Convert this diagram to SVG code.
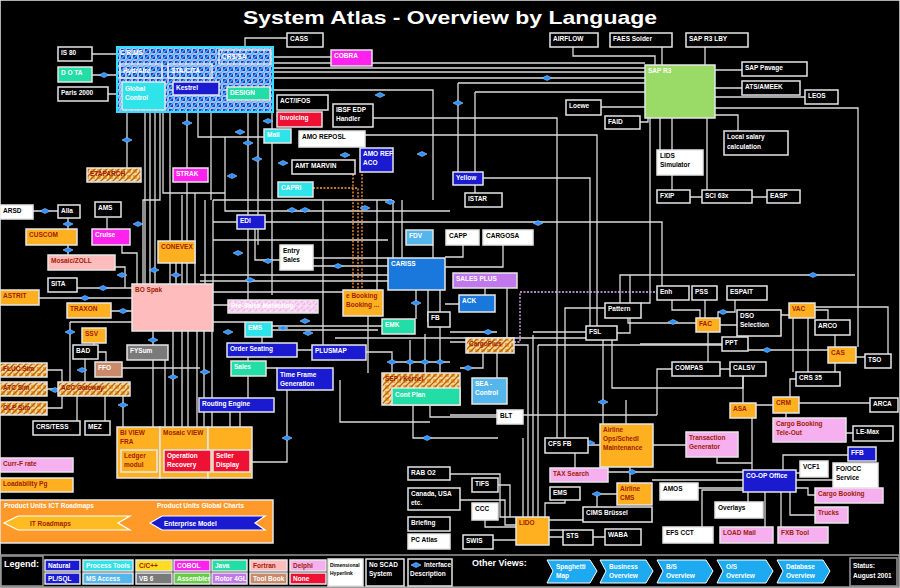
<svg xmlns="http://www.w3.org/2000/svg" width="900" height="588" viewBox="0 0 900 588">
<defs>
<pattern id="hb" width="6" height="6" patternUnits="userSpaceOnUse"><rect width="6" height="6" fill="#1a3cd6"/><path d="M-1,1L1,-1M0,6L6,0M5,7L7,5" stroke="#3ab4ff" stroke-width="1.3"/></pattern>
<pattern id="ho" width="6" height="6" patternUnits="userSpaceOnUse"><rect width="6" height="6" fill="#ffa41a"/><path d="M-1,1L1,-1M0,6L6,0M5,7L7,5" stroke="#b86400" stroke-width="1.3"/></pattern>
<pattern id="hp" width="6" height="6" patternUnits="userSpaceOnUse"><rect width="6" height="6" fill="#ffb0ee"/><path d="M-1,1L1,-1M0,6L6,0M5,7L7,5" stroke="#ffe2fa" stroke-width="1.3"/></pattern>
<path id="dm" d="M-5,0L0,-2.5L5,0L0,2.5Z" fill="#2f8fff" stroke="#9fd2ff" stroke-width="0.6"/>
</defs>
<style>
rect{stroke:#e6e6e6;stroke-width:1.5}
.k{fill:#000}.w{fill:#fff}.o{fill:#ffb020}.p{fill:#ffbcbc}.m{fill:#ff22ee}.c{fill:#2fe3ea}.t{fill:#22dda6}.n{fill:#1a1ad0}.r{fill:#ee1133}.g{fill:#9ada66}.lb{fill:#55b6ec}.bl{fill:#1a78dd}.pu{fill:#c078ec}.gr{fill:#7a7a7a}.br{fill:#c98a6a}.lp{fill:#f6b0f0}
.hb{fill:url(#hb)}.ho{fill:url(#ho)}.hp{fill:url(#hp)}
text{font-family:"Liberation Sans",Arial,sans-serif;font-weight:bold;font-size:6.5px;fill:#fff}
.d{fill:#a02000}.b{fill:#000}
.cn path{fill:none;stroke:#dcdcdc;stroke-width:1.3}
.cn .ds{stroke:#ff9a40;stroke-dasharray:2 1.5}
.cn .dp{stroke:#e6b0ff;stroke-dasharray:2 1.5}
</style>
<rect x="0" y="0" width="900" height="588" fill="#000" stroke="none"/>
<text x="243" y="24" textLength="414" lengthAdjust="spacingAndGlyphs" style="font-size:19px">System Atlas - Overview by Language</text>

<g id="connectors" class="cn">
<path d="M92,54H117M92,75H117M108,94H122M245,47V38H287M273,57H331M273,63H645M273,68H645M273,72H645M273,78H645M273,90H433V200"/>
<path d="M573,47V56H655V65M662,47V65M705,47V65M715,70H742M715,88H742M715,97H805M715,108H858V347M715,115H738V131M601,107H645M640,122H648V118"/>
<path d="M475,92H645M475,92V193M458,83H645M458,83V172M365,135H597V326M373,118H557V438M483,178H590V326M660,118V150M672,118V190M707,118V190M690,197H702M752,197H767M650,118V303H641"/>
<path d="M213,222H237M265,222H662V286M620,303V275H855M617,333H630V275"/>
<path d="M433,245V258M463,245V257H445M503,245V267H445M485,288V295M507,288V338M445,304H459M416,290V319M440,290V312M368,316V373"/>
<path d="M33,211H58M68,218V229M68,245V255M107,218V229M122,245V253H137V284M115,267H125V288H132M77,288H132M39,298H132M111,311H132M176,263V284"/>
<path d="M127,112V168M145,112V284M150,112V284M155,112V284M160,112V200H143V284M163,112V193H225M170,78V112M170,112V284M187,95V284M198,112V137H264M211,112V200M248,100V300M258,100V245M272,100V295"/>
<path d="M182,195V284M195,193V284M205,200V284M213,200V284M225,137V211H450M213,240H388M213,200H392"/>
<path d="M173,331V427M182,331V427M188,331V427M197,331V427M204,331V427M212,331V427M153,331V427M123,396V427M165,360V427"/>
<path d="M70,322H132M70,322V382M94,343V345M98,352H106V362M122,368H200M85,359V382M47,370H62V382M47,389H58M47,408H62V396M77,421V396M105,421V396"/>
<path d="M230,412V427M240,412V427M287,390V462H250M340,380V422H430M413,405V438H498M430,405V417H497"/>
<path d="M255,229V260H280M313,258H388M313,266H388M200,275H388M200,281H388M213,292H343M213,305H228M213,322H245M272,326H382M272,330H378M335,338H600M297,350H312"/>
<path d="M323,200V345M377,200V290M393,200V258M402,200V258M428,290V322M262,337V343M248,357V361M266,368H277M248,376V398"/>
<path d="M366,352H392V373M410,340V373M425,334V373M440,327V373M392,362H450M483,353V368H460M497,353V378M450,332H497M450,342H466M514,345H528V517M533,335V517M538,345V517M587,332H533M538,345H722M523,438V517"/>
<path class="ds" d="M313,188H358V290M353,160V290M362,160V290"/>
<path class="dp" d="M514,342H520V292H657"/>
<path d="M605,308H565V438M628,318V323H696M603,340V424M612,340V388H743V376M672,369H657V415M450,415H657M720,325H737M708,332V362M705,300V318M672,300V310H700V318M735,300V312H718V318M781,315H789M722,344H640M748,350H828M720,369H730"/>
<path d="M815,310H828V320M835,335V347M835,363V372M856,357H865M815,307H888V354M793,318V372M808,318V372M790,397V379H796M799,403H870M756,405H773M743,403V376M786,413V418M846,433H853"/>
<path d="M626,400V424M588,445H600M630,467V483M653,445H686M575,453V468M617,494H597V507M565,500V503H545V517M583,520H549M549,530H563M549,537H605"/>
<path d="M450,474H500V517H516M460,500H505V525H516M498,485H510V517M485,520V527H516M493,540H516M608,472H743M652,480H743M698,488H743M717,457V463H752V470M752,418V470"/>
<path d="M796,473H800M796,480H833M796,488H808V495H815M790,492V515H815M748,492V502M765,492V527M781,492V527M702,527V490H743M848,455H783V470"/>
</g>
<g id="diamonds">
<use href="#dm" x="104" y="75"/><use href="#dm" x="127" y="140"/><use href="#dm" x="187" y="123"/><use href="#dm" x="240" y="132"/><use href="#dm" x="248" y="143"/><use href="#dm" x="257" y="159"/><use href="#dm" x="232" y="176"/><use href="#dm" x="268" y="121"/><use href="#dm" x="283" y="163"/><use href="#dm" x="345" y="155"/><use href="#dm" x="380" y="95"/><use href="#dm" x="422" y="154"/><use href="#dm" x="547" y="78"/><use href="#dm" x="458" y="103"/>
<use href="#dm" x="45" y="211"/><use href="#dm" x="68" y="224"/><use href="#dm" x="68" y="250"/><use href="#dm" x="138" y="224"/><use href="#dm" x="154" y="270"/><use href="#dm" x="176" y="275"/><use href="#dm" x="122" y="275"/><use href="#dm" x="103" y="288"/><use href="#dm" x="85" y="298"/><use href="#dm" x="123" y="311"/><use href="#dm" x="70" y="332"/><use href="#dm" x="82" y="370"/><use href="#dm" x="55" y="390"/><use href="#dm" x="123" y="405"/><use href="#dm" x="153" y="340"/><use href="#dm" x="173" y="377"/><use href="#dm" x="205" y="372"/>
<use href="#dm" x="292" y="210"/><use href="#dm" x="305" y="210"/><use href="#dm" x="365" y="208"/><use href="#dm" x="390" y="202"/><use href="#dm" x="238" y="253"/><use href="#dm" x="268" y="261"/><use href="#dm" x="338" y="266"/><use href="#dm" x="250" y="280"/><use href="#dm" x="228" y="332"/><use href="#dm" x="283" y="328"/><use href="#dm" x="305" y="321"/><use href="#dm" x="308" y="333"/><use href="#dm" x="416" y="303"/>
<use href="#dm" x="392" y="362"/><use href="#dm" x="410" y="362"/><use href="#dm" x="425" y="362"/><use href="#dm" x="440" y="362"/><use href="#dm" x="488" y="332"/><use href="#dm" x="538" y="223"/><use href="#dm" x="813" y="275"/><use href="#dm" x="767" y="350"/><use href="#dm" x="723" y="312"/><use href="#dm" x="673" y="322"/><use href="#dm" x="468" y="368"/>
<use href="#dm" x="287" y="438"/><use href="#dm" x="427" y="438"/><use href="#dm" x="590" y="443"/><use href="#dm" x="603" y="402"/><use href="#dm" x="632" y="472"/><use href="#dm" x="597" y="494"/>
</g>

<g id="n-crms"><rect class="hb" x="117" y="47" width="156" height="65" style="stroke:#33ddff;stroke-width:2"/><text x="120" y="55">C R.MS</text></g>
<g id="n-hydrair"><rect class="hb" x="120" y="64" width="42" height="14"/><text x="123" y="73">HydrAire</text></g>
<g id="n-stacita"><rect class="hb" x="168" y="64" width="44" height="14"/><text x="171" y="73">STA/CITA</text></g>
<g id="n-crssa"><rect class="hb" x="219" y="50" width="52" height="14"/><text x="222" y="59">CRS/SA</text></g>
<g id="n-global"><rect class="c" x="122" y="82" width="43" height="28"/><text x="125" y="91">Global</text><text x="125" y="100">Control</text></g>
<g id="n-kestrel"><rect class="n" x="173" y="82" width="46" height="13"/><text x="176" y="90">Kestrel</text></g>
<g id="n-design"><rect class="t" x="227" y="87" width="43" height="13"/><text x="230" y="95">DESIGN</text></g>
<g id="n-is80"><rect class="k" x="58" y="47" width="34" height="14"/><text x="61" y="55">IS 80</text></g>
<g id="n-dota"><rect class="t" x="58" y="67" width="34" height="15"/><text x="61" y="75">D O TA</text></g>
<g id="n-paris"><rect class="k" x="58" y="87" width="50" height="14"/><text x="61" y="95">Paris 2000</text></g>
<g id="n-cass"><rect class="k" x="287" y="33" width="36" height="14"/><text x="290" y="41">CASS</text></g>
<g id="n-cobra"><rect class="m" x="331" y="50" width="41" height="16"/><text x="334" y="58">COBRA</text></g>
<g id="n-actifos"><rect class="k" x="277" y="95" width="51" height="15"/><text x="280" y="103">ACT/IFOS</text></g>
<g id="n-invoic"><rect class="r" x="277" y="112" width="45" height="15"/><text x="280" y="120">Invoicing</text></g>
<g id="n-ibsf"><rect class="k" x="333" y="104" width="40" height="23"/><text x="336" y="112">IBSF EDP</text><text x="336" y="121">Handler</text></g>
<g id="n-mail"><rect class="c" x="264" y="129" width="27" height="14"/><text x="267" y="137">Mail</text></g>
<g id="n-amorepos"><rect class="w" x="299" y="131" width="66" height="16"/><text class="b" x="302" y="139">AMO REPOSL</text></g>
<g id="n-amoref"><rect class="n" x="360" y="148" width="33" height="24"/><text x="363" y="156">AMO REF</text><text x="363" y="165">ACO</text></g>
<g id="n-amt"><rect class="k" x="292" y="160" width="63" height="14"/><text x="295" y="168">AMT MARVIN</text></g>
<g id="n-strak"><rect class="m" x="173" y="168" width="35" height="14"/><text x="176" y="176">STRAK</text></g>
<g id="n-etap"><rect class="ho" x="87" y="168" width="54" height="14"/><text class="d" x="90" y="176">ETAPARCH</text></g>
<g id="n-capri"><rect class="c" x="278" y="182" width="35" height="15"/><text x="281" y="190">CAPRI</text></g>
<g id="n-yellow"><rect class="n" x="453" y="172" width="30" height="13"/><text x="456" y="180">Yellow</text></g>
<g id="n-istar"><rect class="k" x="465" y="193" width="37" height="14"/><text x="468" y="201">ISTAR</text></g>

<g id="n-airflow"><rect class="k" x="550" y="33" width="48" height="14"/><text x="553" y="41">AIRFLOW</text></g>
<g id="n-faes"><rect class="k" x="610" y="33" width="62" height="14"/><text x="613" y="41">FAES Solder</text></g>
<g id="n-saplby"><rect class="k" x="686" y="33" width="62" height="14"/><text x="689" y="41">SAP R3 LBY</text></g>
<g id="n-sapr3"><rect class="g" x="645" y="65" width="70" height="53"/><text x="648" y="73">SAP R3</text></g>
<g id="n-sappav"><rect class="k" x="742" y="62" width="65" height="14"/><text x="745" y="70">SAP  Pavage</text></g>
<g id="n-ats"><rect class="k" x="742" y="81" width="58" height="14"/><text x="745" y="89">ATS/AMEEK</text></g>
<g id="n-leos"><rect class="k" x="805" y="90" width="33" height="14"/><text x="808" y="98">LEOS</text></g>
<g id="n-local"><rect class="k" x="724" y="131" width="64" height="24"/><text x="727" y="139">Local salary</text><text x="727" y="149">calculation</text></g>
<g id="n-loewe"><rect class="k" x="566" y="100" width="35" height="15"/><text x="569" y="108">Loewe</text></g>
<g id="n-faid"><rect class="k" x="605" y="116" width="35" height="13"/><text x="608" y="124">FAID</text></g>
<g id="n-lids"><rect class="w" x="657" y="150" width="46" height="25"/><text class="b" x="660" y="158">LIDS</text><text class="b" x="660" y="167">Simulator</text></g>
<g id="n-fxip"><rect class="k" x="657" y="190" width="33" height="13"/><text x="660" y="198">FXIP</text></g>
<g id="n-sci"><rect class="k" x="702" y="190" width="50" height="13"/><text x="705" y="198">SCI 63x</text></g>
<g id="n-easp"><rect class="k" x="767" y="190" width="33" height="13"/><text x="770" y="198">EASP</text></g>

<g id="n-arsd"><rect class="w" x="0" y="205" width="33" height="14"/><text class="b" x="3" y="213">ARSD</text></g>
<g id="n-alla"><rect class="k" x="58" y="205" width="22" height="13"/><text x="61" y="213">Alla</text></g>
<g id="n-ams"><rect class="k" x="95" y="202" width="26" height="15"/><text x="98" y="210">AMS</text></g>
<g id="n-cuscom"><rect class="o" x="26" y="229" width="51" height="16"/><text class="d" x="29" y="237">CUSCOM</text></g>
<g id="n-cruise"><rect class="m" x="92" y="229" width="38" height="16"/><text x="95" y="237">Cruise</text></g>
<g id="n-conevex"><rect class="o" x="158" y="241" width="37" height="22"/><text class="d" x="161" y="249">CONEVEX</text></g>
<g id="n-mosaic"><rect class="p" x="48" y="255" width="67" height="15"/><text class="d" x="51" y="263">Mosaic/ZOLL</text></g>
<g id="n-sita"><rect class="k" x="48" y="278" width="29" height="14"/><text x="51" y="286">SITA</text></g>
<g id="n-astrit"><rect class="o" x="0" y="290" width="39" height="15"/><text class="d" x="3" y="298">ASTRIT</text></g>
<g id="n-bospak"><rect class="p" x="132" y="284" width="81" height="47"/><text class="d" x="135" y="292">BO Spak</text></g>
<g id="n-traxon"><rect class="o" x="67" y="303" width="44" height="15"/><text class="d" x="70" y="311">TRAXON</text></g>
<g id="n-ssv"><rect class="o" x="82" y="328" width="24" height="15"/><text class="d" x="85" y="336">SSV</text></g>
<g id="n-bad"><rect class="k" x="73" y="345" width="25" height="14"/><text x="76" y="353">BAD</text></g>
<g id="n-fysum"><rect class="gr" x="127" y="345" width="41" height="15"/><text x="130" y="353">FYSum</text></g>
<g id="n-ffo"><rect class="br" x="95" y="362" width="27" height="15"/><text x="98" y="370">FFO</text></g>
<g id="n-fluc"><rect class="ho" x="0" y="363" width="47" height="14"/><text class="d" x="3" y="371">FLUC Sim</text></g>
<g id="n-atc"><rect class="ho" x="0" y="382" width="47" height="14"/><text class="d" x="3" y="390">ATC Sim</text></g>
<g id="n-olp"><rect class="ho" x="0" y="402" width="47" height="13"/><text class="d" x="3" y="410">OLP Sim</text></g>
<g id="n-acc"><rect class="ho" x="58" y="382" width="72" height="14"/><text class="d" x="61" y="390">ACC  Gateway</text></g>
<g id="n-crstess"><rect class="k" x="33" y="421" width="47" height="14"/><text x="36" y="429">CRS/TESS</text></g>
<g id="n-mez"><rect class="k" x="85" y="421" width="25" height="14"/><text x="88" y="429">MEZ</text></g>
<g id="n-biview"><rect class="o" x="117" y="427" width="43" height="51"/><text class="d" x="120" y="435">BI VIEW</text><text class="d" x="120" y="444">FRA</text></g>
<g id="n-mosview"><rect class="o" x="160" y="427" width="48" height="51"/><text class="d" x="163" y="435">Mosaic VIEW</text></g>
<g id="n-col3"><rect class="o" x="208" y="427" width="44" height="51"/></g>
<g id="n-ledger"><rect class="o" x="121" y="450" width="36" height="22"/><text class="d" x="124" y="458">Ledger</text><text class="d" x="124" y="467">modul</text></g>
<g id="n-oprec"><rect class="r" x="164" y="450" width="47" height="22"/><text x="167" y="458">Operation</text><text x="167" y="467">Recovery</text></g>
<g id="n-seller"><rect class="r" x="213" y="450" width="37" height="22"/><text x="216" y="458">Seller</text><text x="216" y="467">Display</text></g>
<g id="n-curr"><rect class="lp" x="0" y="458" width="73" height="14"/><text class="d" x="3" y="466">Curr-F  rate</text></g>
<g id="n-load"><rect class="o" x="0" y="478" width="73" height="14"/><text class="d" x="3" y="486">Loadability Pg</text></g>
<g id="n-roadmap"><rect x="0" y="500" width="273" height="43" fill="#ff9a2a"/><text x="4" y="508">Product Units ICT Roadmaps</text><text x="157" y="508">Product Units Global Charts</text>
<path d="M4,523L18,516H130L118,523L130,530H18Z" fill="#ffbb22" stroke="#fff" stroke-width="1.2"/><text class="d" x="30" y="526">IT  Roadmaps</text>
<path d="M150,523L162,516H265L255,523L265,530H162Z" fill="#1a1ad0" stroke="#fff" stroke-width="1.2"/><text x="164" y="526">Enterprise Model</text></g>

<g id="n-edi"><rect class="n" x="237" y="215" width="28" height="14"/><text x="240" y="223">EDI</text></g>
<g id="n-entry"><rect class="w" x="280" y="245" width="33" height="25"/><text class="b" x="283" y="253">Entry</text><text class="b" x="283" y="262">Sales</text></g>
<g id="n-presales"><rect class="hp" x="228" y="300" width="90" height="13"/><text x="231" y="308">Pre-Sales  Marketing</text></g>
<g id="n-ems"><rect class="c" x="245" y="322" width="27" height="15"/><text x="248" y="330">EMS</text></g>
<g id="n-order"><rect class="n" x="227" y="343" width="70" height="14"/><text x="230" y="351">Order Seating</text></g>
<g id="n-sales"><rect class="t" x="231" y="361" width="35" height="15"/><text x="234" y="369">Sales</text></g>
<g id="n-timeframe"><rect class="n" x="277" y="368" width="56" height="22"/><text x="280" y="377">Time Frame</text><text x="280" y="386">Generation</text></g>
<g id="n-plusmap"><rect class="n" x="312" y="345" width="54" height="15"/><text x="315" y="353">PLUSMAP</text></g>
<g id="n-routing"><rect class="n" x="199" y="398" width="75" height="14"/><text x="202" y="406">Routing Engine</text></g>
<g id="n-fdv"><rect class="lb" x="406" y="230" width="27" height="15"/><text x="409" y="238">FDV</text></g>
<g id="n-capp"><rect class="w" x="446" y="230" width="33" height="15"/><text class="b" x="449" y="238">CAPP</text></g>
<g id="n-cargosa"><rect class="w" x="483" y="230" width="50" height="15"/><text class="b" x="486" y="238">CARGOSA</text></g>
<g id="n-cariss"><rect class="bl" x="388" y="258" width="57" height="32"/><text x="391" y="266">CARISS</text></g>
<g id="n-salesplus"><rect class="pu" x="453" y="273" width="64" height="15"/><text x="456" y="281">SALES PLUS</text></g>
<g id="n-ack"><rect class="bl" x="459" y="295" width="36" height="17"/><text x="462" y="303">ACK</text></g>
<g id="n-ebook"><rect class="o" x="343" y="290" width="40" height="26"/><text class="d" x="346" y="298">e Booking</text><text class="d" x="346" y="307">Booking ...</text></g>
<g id="n-emk"><rect class="t" x="382" y="319" width="33" height="15"/><text x="385" y="327">EMK</text></g>
<g id="n-fb"><rect class="k" x="428" y="312" width="22" height="15"/><text x="431" y="320">FB</text></g>
<g id="n-cargoplus"><rect class="ho" x="466" y="338" width="48" height="15"/><text class="d" x="469" y="346">CargoPlus</text></g>
<g id="n-sep"><rect class="ho" x="382" y="373" width="78" height="32"/><text class="d" x="385" y="381">SEP / Kernel</text><rect class="t" x="392" y="388" width="68" height="17"/><text x="395" y="397">Cont Plan</text></g>
<g id="n-sea"><rect class="lb" x="472" y="378" width="35" height="26"/><text x="475" y="386">SEA -</text><text x="475" y="395">Control</text></g>
<g id="n-blt"><rect class="w" x="497" y="410" width="26" height="14"/><text class="b" x="500" y="418">BLT</text></g>

<g id="n-enh"><rect class="k" x="657" y="286" width="32" height="14"/><text x="660" y="294">Enh</text></g>
<g id="n-pss"><rect class="k" x="692" y="286" width="25" height="14"/><text x="695" y="294">PSS</text></g>
<g id="n-espait"><rect class="k" x="727" y="286" width="40" height="14"/><text x="730" y="294">ESPAIT</text></g>
<g id="n-pattern"><rect class="k" x="605" y="303" width="36" height="15"/><text x="608" y="311">Pattern</text></g>
<g id="n-fac"><rect class="o" x="696" y="318" width="24" height="14"/><text class="d" x="699" y="326">FAC</text></g>
<g id="n-dso"><rect class="k" x="737" y="310" width="44" height="26"/><text x="740" y="318">DSO</text><text x="740" y="327">Selection</text></g>
<g id="n-vac"><rect class="o" x="789" y="303" width="26" height="15"/><text class="d" x="792" y="311">VAC</text></g>
<g id="n-arco"><rect class="k" x="815" y="320" width="35" height="15"/><text x="818" y="328">ARCO</text></g>
<g id="n-fsl"><rect class="k" x="586" y="326" width="31" height="14"/><text x="589" y="334">FSL</text></g>
<g id="n-ppt"><rect class="k" x="722" y="337" width="26" height="14"/><text x="725" y="345">PPT</text></g>
<g id="n-cas"><rect class="o" x="828" y="347" width="28" height="16"/><text class="d" x="831" y="355">CAS</text></g>
<g id="n-tso"><rect class="k" x="865" y="354" width="26" height="14"/><text x="868" y="362">TSO</text></g>
<g id="n-compas"><rect class="k" x="672" y="362" width="48" height="14"/><text x="675" y="370">COMPAS</text></g>
<g id="n-calsv"><rect class="k" x="730" y="362" width="36" height="14"/><text x="733" y="370">CALSV</text></g>
<g id="n-crs35"><rect class="k" x="796" y="372" width="44" height="14"/><text x="799" y="380">CRS 35</text></g>
<g id="n-asa"><rect class="o" x="730" y="403" width="26" height="15"/><text class="d" x="733" y="411">ASA</text></g>
<g id="n-crm"><rect class="o" x="773" y="397" width="26" height="16"/><text class="d" x="776" y="405">CRM</text></g>
<g id="n-arca"><rect class="k" x="870" y="398" width="28" height="14"/><text x="873" y="406">ARCA</text></g>
<g id="n-cbto"><rect class="lp" x="773" y="418" width="73" height="24"/><text class="d" x="776" y="426">Cargo Booking</text><text class="d" x="776" y="435">Tele-Out</text></g>
<g id="n-lemax"><rect class="k" x="853" y="426" width="40" height="15"/><text x="856" y="434">LE-Max</text></g>
<g id="n-trans"><rect class="lp" x="686" y="432" width="52" height="25"/><text class="d" x="689" y="440">Transaction</text><text class="d" x="689" y="449">Generator</text></g>
<g id="n-ffb"><rect class="n" x="848" y="447" width="28" height="14"/><text x="851" y="455">FFB</text></g>
<g id="n-coop"><rect class="n" x="743" y="470" width="53" height="22"/><text x="746" y="478">CO-OP Office</text></g>
<g id="n-vcf"><rect class="w" x="800" y="461" width="28" height="16"/><text class="b" x="803" y="469">VCF1</text></g>
<g id="n-foocc"><rect class="w" x="833" y="463" width="45" height="25"/><text class="b" x="836" y="471">FO/OCC</text><text class="b" x="836" y="480">Service</text></g>
<g id="n-cargobook"><rect class="lp" x="815" y="488" width="68" height="15"/><text class="d" x="818" y="496">Cargo Booking</text></g>
<g id="n-trucks"><rect class="lp" x="815" y="507" width="33" height="16"/><text class="d" x="818" y="515">Trucks</text></g>
<g id="n-overlays"><rect class="w" x="715" y="502" width="48" height="16"/><text class="b" x="718" y="510">Overlays</text></g>
<g id="n-efs"><rect class="w" x="663" y="527" width="50" height="16"/><text class="b" x="666" y="535">EFS CCT</text></g>
<g id="n-loadmail"><rect class="lp" x="720" y="527" width="53" height="16"/><text class="d" x="723" y="535">LOAD Mail</text></g>
<g id="n-fxb"><rect class="lp" x="778" y="527" width="50" height="16"/><text class="d" x="781" y="535">FXB Tool</text></g>
<g id="n-amos"><rect class="w" x="660" y="483" width="38" height="17"/><text class="b" x="663" y="491">AMOS</text></g>

<g id="n-rab"><rect class="k" x="408" y="467" width="42" height="13"/><text x="411" y="475">RAB O2</text></g>
<g id="n-canada"><rect class="k" x="408" y="488" width="52" height="22"/><text x="411" y="496">Canada, USA</text><text x="411" y="505">etc.</text></g>
<g id="n-brief"><rect class="k" x="408" y="517" width="42" height="14"/><text x="411" y="525">Briefing</text></g>
<g id="n-pcatlas"><rect class="w" x="408" y="534" width="42" height="15"/><text class="b" x="411" y="542">PC Atlas</text></g>
<g id="n-tifs"><rect class="k" x="472" y="478" width="26" height="14"/><text x="475" y="486">TIFS</text></g>
<g id="n-ccc"><rect class="w" x="472" y="503" width="26" height="17"/><text class="b" x="475" y="511">CCC</text></g>
<g id="n-swis"><rect class="k" x="463" y="535" width="30" height="14"/><text x="466" y="543">SWIS</text></g>
<g id="n-lido"><rect class="o" x="516" y="517" width="33" height="28"/><text class="d" x="519" y="525">LIDO</text></g>
<g id="n-cfsfb"><rect class="k" x="545" y="438" width="43" height="15"/><text x="548" y="446">CFS FB</text></g>
<g id="n-airops"><rect class="o" x="600" y="424" width="53" height="43"/><text class="d" x="603" y="432">Airline</text><text class="d" x="603" y="441">Ops/Schedl</text><text class="d" x="603" y="450">Maintenance</text></g>
<g id="n-tax"><rect class="lp" x="550" y="468" width="58" height="14"/><text class="d" x="553" y="476">TAX Search</text></g>
<g id="n-ems2"><rect class="k" x="550" y="487" width="30" height="13"/><text x="553" y="495">EMS</text></g>
<g id="n-aircms"><rect class="o" x="617" y="483" width="35" height="22"/><text class="d" x="620" y="491">Airline</text><text class="d" x="620" y="500">CMS</text></g>
<g id="n-cims"><rect class="k" x="583" y="507" width="69" height="15"/><text x="586" y="515">CIMS Brüssel</text></g>
<g id="n-sts"><rect class="k" x="563" y="530" width="30" height="15"/><text x="566" y="538">STS</text></g>
<g id="n-waba"><rect class="k" x="605" y="529" width="36" height="16"/><text x="608" y="537">WABA</text></g>

<g id="legend">
<rect x="1" y="555" width="898" height="32" fill="none" style="stroke:#999"/>
<rect class="k" x="1" y="556" width="42" height="30" style="stroke:#999"/><text x="4" y="567" style="font-size:9px">Legend:</text>
<rect class="n" x="45" y="560" width="35" height="11"/><text x="48" y="568">Natural</text>
<rect class="c" x="83" y="560" width="50" height="11"/><text x="86" y="568">Process Tools</text>
<rect x="136" y="560" width="36" height="11" fill="#ffdd22"/><text class="d" x="139" y="568">C/C++</text>
<rect class="m" x="174" y="560" width="36" height="11"/><text x="177" y="568">COBOL</text>
<rect class="t" x="212" y="560" width="35" height="11"/><text x="215" y="568">Java</text>
<rect class="p" x="250" y="560" width="37" height="11"/><text class="d" x="253" y="568">Fortran</text>
<rect class="lp" x="290" y="560" width="36" height="11"/><text class="d" x="293" y="568">Delphi</text>
<rect class="n" x="45" y="573" width="35" height="11"/><text x="48" y="581">PL/SQL</text>
<rect class="lb" x="83" y="573" width="50" height="11"/><text x="86" y="581">MS Access</text>
<rect class="gr" x="136" y="573" width="36" height="11"/><text x="139" y="581">VB 6</text>
<rect x="174" y="573" width="36" height="11" fill="#66cc44"/><text x="177" y="581">Assembler</text>
<rect class="pu" x="212" y="573" width="35" height="11"/><text x="215" y="581">Rotor 4GL</text>
<rect class="br" x="250" y="573" width="37" height="11"/><text x="253" y="581">Tool Book</text>
<rect class="r" x="290" y="573" width="36" height="11"/><text x="293" y="581">None</text>
<rect class="w" x="328" y="559" width="35" height="27"/><text class="b" x="330" y="567" style="font-size:5px">Dimensional</text><text class="b" x="330" y="575" style="font-size:5px">Hyperlink</text>
<rect class="k" x="366" y="559" width="38" height="27"/><text x="369" y="567">No SCAD</text><text x="369" y="576">System</text>
<rect class="k" x="408" y="559" width="44" height="27"/><use href="#dm" x="416" y="565"/><text x="424" y="567">Interface</text><text x="410" y="576">Description</text>
<text x="472" y="566" style="font-size:9px">Other Views:</text>
<path d="M547,560H590L597,571L590,583H547L553,571Z" fill="#1eaaf0" stroke="#fff" stroke-width="1"/><text x="556" y="569">Spaghetti</text><text x="556" y="578">Map</text>
<path d="M600,560H646L653,571L646,583H600L606,571Z" fill="#1eaaf0" stroke="#fff" stroke-width="1"/><text x="609" y="569">Business</text><text x="609" y="578">Overview</text>
<path d="M657,560H706L713,571L706,583H657L663,571Z" fill="#1eaaf0" stroke="#fff" stroke-width="1"/><text x="666" y="569">B/S</text><text x="666" y="578">Overview</text>
<path d="M717,560H766L773,571L766,583H717L723,571Z" fill="#1eaaf0" stroke="#fff" stroke-width="1"/><text x="726" y="569">O/S</text><text x="726" y="578">Overview</text>
<path d="M777,560H823L830,571L823,583H777L783,571Z" fill="#1eaaf0" stroke="#fff" stroke-width="1"/><text x="786" y="569">Database</text><text x="786" y="578">Overview</text>
<rect class="k" x="850" y="558" width="47" height="28" style="stroke:#999"/><text x="853" y="568">Status:</text><text x="853" y="578">August 2001</text>
</g>
</svg>
